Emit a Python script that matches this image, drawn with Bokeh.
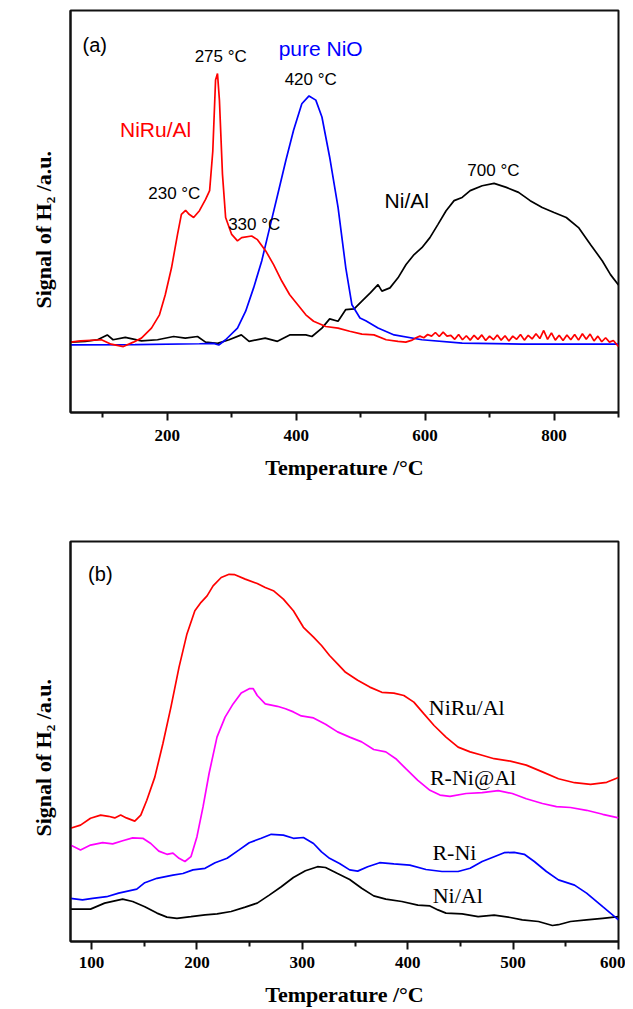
import math
from bokeh.plotting import figure
from bokeh.models import FixedTicker, Label, Range1d, Title
from bokeh.layouts import column
from bokeh.embed import file_html
from bokeh.resources import INLINE

# ---------------- Panel (a) data ----------------
a_nio_T = [50, 150, 250, 272, 280, 290.6, 309, 321.7, 334, 346.6, 359, 371.5, 384, 396, 408.8, 420,
           430.5, 440, 452, 465, 477, 486.5, 499, 508, 527, 552, 595, 657.5, 750.7, 900]
a_nio_v = [16.8, 16.9, 17.1, 17.2, 16.8, 18.1, 21.0, 25.2, 31.0, 37.7, 46.0, 54.3, 62.7, 70.2, 76.8, 78.75,
           77.7, 73.5, 63.5, 51.0, 36.0, 26.8, 23.5, 22.8, 21.0, 19.3, 18.1, 17.25, 17.0, 17.0]

a_niru_T = [50, 66, 98, 113, 132, 147.6, 160, 175.6, 188, 197, 206.7, 216, 222, 228.5, 234, 241, 250, 259.5,
            265.8, 270.7, 275, 278, 281, 285.7, 290.6, 300, 309, 315.5, 331, 340, 352.8, 365, 377.7, 390,
            402.5, 415, 427, 446, 465, 483, 502, 520.7, 539.6, 558, 570,
            580, 586, 592, 598, 604, 610, 616, 622, 628, 634, 640, 646, 652, 658, 664, 670, 676, 682, 688,
            694, 700, 706, 712, 718, 724, 730, 736, 742, 748, 754, 760, 766, 772, 778, 784, 790, 796, 802,
            808, 814, 820, 826, 832, 838, 844, 850, 856, 862, 868, 874, 880, 886, 892, 898, 900]
a_niru_v = [17.5, 17.8, 18.1, 17.0, 16.4, 17.5, 18.5, 21.0, 24.3, 29.3, 36.0, 44.3, 49.3, 50.3, 49.3, 48.5, 50.2, 53.0,
            55.2, 65.0, 82.7, 84.3, 77.7, 59.3, 48.5, 44.3, 42.7, 43.5, 43.9, 43.0, 40.2, 36.8, 32.7, 29.3,
            26.8, 24.3, 22.7, 21.4, 21.0, 20.2, 19.5, 19.3, 18.1, 17.7, 17.5,
            18.0, 18.6, 19.0, 18.6, 19.4, 19.0, 19.9, 18.9, 20.0, 19.0, 19.2, 18.2, 19.4, 18.1, 19.1, 18.0, 19.2, 18.2, 19.3,
            17.9, 19.0, 18.1, 19.3, 18.0, 19.1, 17.8, 19.0, 18.2, 19.4, 18.0, 19.2, 18.3, 19.6, 18.4, 20.4, 18.2, 19.8, 18.0,
            19.2, 17.9, 19.3, 18.1, 19.4, 18.0, 19.6, 18.2, 19.5, 17.8, 19.0, 17.6, 18.6, 17.5, 17.9, 16.8, 16.4]

a_nial_T = [50, 73, 92, 107, 116, 135, 160, 185, 210, 228, 247, 259.5, 278, 296, 315, 327, 352, 371, 390, 415,
            424.5, 440, 452, 465, 477, 490, 502, 515, 527, 533, 545.5, 558, 570.5, 583, 595, 607.5, 620,
            632.6, 645, 657.5, 670, 688.6, 707, 726, 745, 763, 781.7, 800, 819, 838, 856.5, 875, 887.6, 900]
a_nial_v = [17.5, 17.7, 18.1, 19.3, 18.1, 18.7, 17.8, 18.1, 18.9, 18.5, 18.9, 17.5, 17.2, 18.1, 19.3, 17.7, 18.5, 17.7,
            19.3, 19.3, 18.9, 21.0, 23.3, 22.7, 25.6, 25.8, 27.7, 29.75, 31.8, 30.2, 31.0, 33.5, 36.8, 39.3, 41.0,
            43.5, 46.8, 50.2, 52.7, 53.5, 55.2, 56.4, 57.0, 56.0, 54.75, 52.7, 51.0, 49.75, 48.5, 46.0, 41.8,
            37.7, 34.3, 31.7]

# ---------------- Panel (b) data ----------------
b_niru_T = [80, 89.5, 99, 108.6, 116, 122, 127.6, 133, 141, 146.7, 152.4, 160, 167.7, 175.3, 183, 190.5, 198,
            203.9, 209.6, 215.3, 223, 230.5, 236, 245.8, 257.2, 264.8, 272.5, 282, 291.5, 301, 310.6, 318.2,
            325.8, 333.4, 341, 352.5, 364, 375.4, 386.8, 396.3, 405.8, 415.4, 425, 436.3, 447.8, 459.2, 470.6,
            482, 497.3, 512.5, 527.8, 543, 558.3, 573.5, 588.8, 600]
b_niru_v = [28.3, 29.1, 30.8, 31.6, 31.3, 30.9, 31.6, 30.9, 30.1, 31.6, 35.3, 41.1, 49.5, 58.6, 68.6, 76.9, 82.7,
            84.8, 86.4, 88.9, 91.0, 91.8, 91.7, 90.6, 89.5, 88.5, 87.7, 85.6, 82.7, 78.55, 76.1, 74.0,
            71.5, 69.4, 67.3, 65.3, 63.6, 62.3, 62.1, 61.5, 59.85, 56.9, 54.0, 51.1, 48.6, 47.4, 46.55,
            45.7, 45.1, 44.1, 42.4, 40.7, 39.7, 39.3, 39.8, 41.0]

b_rnial_T = [80, 89.5, 99, 110.5, 120, 129.5, 139, 148.6, 156.2, 163.8, 171.5, 177.2, 183, 188.6, 194.3, 200,
             205.8, 211.5, 219, 226.7, 234.3, 242, 249.6, 253.4, 257.2, 264.8, 276.3, 284, 291.5, 299, 310.6,
             322, 333.4, 344.9, 356.3, 367.7, 379.2, 388.7, 398.2, 409.6, 421.1, 430.6, 440.1, 455.4, 470.6,
             485.9, 499.2, 512.5, 527.8, 541.1, 554.4, 569.7, 585, 600]
b_rnial_v = [24.1, 22.9, 24.1, 24.7, 24.4, 25.2, 25.9, 25.8, 24.5, 22.6, 21.8, 22.1, 20.8, 20.0, 21.2, 26.2,
             33.7, 42.0, 51.1, 56.1, 59.4, 62.1, 63.2, 63.2, 61.5, 59.4, 58.8, 58.2, 57.4, 56.4, 55.9,
             54.3, 52.4, 51.1, 49.9, 48.0, 47.4, 45.7, 43.2, 40.3, 37.8, 36.6, 36.3, 37.0, 37.2,
             37.7, 37.0, 35.7, 34.5, 33.7, 33.5, 32.8, 31.8, 30.9]

b_rni_T = [80, 91.4, 101, 114.3, 125.7, 142.9, 150.5, 162, 177.2, 186.7, 196.2, 207.7, 217.2, 228.6, 240,
           249.6, 261, 270.5, 282, 291.5, 301, 310.6, 318.2, 325.8, 335.3, 344.9, 352.5, 362, 373.4, 386.8,
           402, 417.3, 432.5, 447.8, 459.2, 470.6, 482, 491.5, 501, 510.6, 520.1, 531.6, 543, 558.3, 569.7,
           585, 600]
b_rni_v = [10.8, 10.4, 10.8, 11.2, 12.1, 13.1, 14.7, 15.8, 16.6, 17.0, 17.9, 18.3, 19.7, 20.8, 22.9,
           24.7, 25.8, 26.8, 26.6, 25.8, 26.0, 24.5, 22.4, 20.8, 19.5, 17.9, 17.6, 18.7, 19.7, 19.4,
           19.1, 18.0, 17.5, 17.5, 18.3, 20.0, 21.2, 22.2, 22.3, 21.8, 20.0, 17.5, 15.4, 14.1, 12.1,
           8.7, 5.4]

b_nial_T = [80, 99, 112.4, 129.5, 139, 150.5, 162, 171.5, 181, 194.3, 207.7, 219.1, 232.4, 245.8, 257.2,
            268.6, 280, 291.5, 302.9, 314.4, 322, 333.4, 344.9, 356.3, 367.7, 379.2, 394.4, 409.6, 421.1,
            428.7, 436.3, 451.6, 466.8, 482, 497.3, 508.7, 524, 537.3, 543, 554.4, 569.7, 585, 600]
b_nial_v = [8.1, 8.1, 9.6, 10.6, 10.0, 8.7, 7.1, 6.1, 5.8, 6.2, 6.65, 6.9, 7.5, 8.6, 9.6,
            11.6, 13.7, 16.0, 17.7, 18.7, 18.5, 17.0, 15.5, 13.3, 11.4, 10.6, 10.0, 9.1, 8.9,
            7.9, 7.1, 6.9, 6.2, 6.6, 6.0, 5.4, 5.0, 4.0, 4.2, 5.0, 5.4, 5.8, 6.2]

a_major = [200, 400, 600, 800]
a_minor = [100, 300, 500, 700, 900]
b_major = [100, 200, 300, 400, 500, 600]
b_minor = [150, 250, 350, 450, 550]

SERIF = "Liberation Serif"
SANS = "Liberation Sans"
YLABEL = "Signal of H\u2082 /a.u."
XLABEL = "Temperature /\u00b0C"


def make_fig(width, height, xr, left, right, top, bottom, major, minor, tick_standoff, label_standoff,
             ylabel_offset, ylabel_standoff):
    p = figure(width=width, height=height, x_range=Range1d(*xr), y_range=Range1d(0, 100),
               output_backend="svg", toolbar_location=None,
               min_border_left=left, min_border_right=right, min_border_top=top, min_border_bottom=bottom)
    p.xgrid.visible = False
    p.ygrid.visible = False
    p.outline_line_color = "#111111"
    p.outline_line_width = 2
    p.background_fill_color = "white"
    p.border_fill_color = "white"
    xa = p.xaxis[0]
    xa.ticker = FixedTicker(ticks=major, minor_ticks=minor)
    xa.axis_line_width = 2
    xa.axis_line_color = "#111111"
    xa.major_tick_line_width = 2
    xa.minor_tick_line_width = 2
    xa.major_tick_line_color = "#111111"
    xa.minor_tick_line_color = "#111111"
    xa.major_tick_in = 0
    xa.major_tick_out = 8
    xa.minor_tick_in = 0
    xa.minor_tick_out = 5
    xa.major_label_text_font = SERIF
    xa.major_label_text_font_style = "bold"
    xa.major_label_text_font_size = "17px"
    xa.major_label_text_color = "black"
    xa.major_label_standoff = tick_standoff
    xa.axis_label = XLABEL
    xa.axis_label_text_font = SERIF
    xa.axis_label_text_font_style = "bold"
    xa.axis_label_text_font_size = "22px"
    xa.axis_label_text_color = "black"
    xa.axis_label_standoff = label_standoff
    ya = p.yaxis[0]
    ya.ticker = FixedTicker(ticks=[])
    ya.axis_line_width = 2
    ya.axis_line_color = "#111111"
    ya.major_tick_line_color = None
    ya.minor_tick_line_color = None
    ya.major_tick_out = 0
    ya.major_label_text_font_size = "0px"
    p.add_layout(Title(text=YLABEL, align="left", offset=ylabel_offset, standoff=ylabel_standoff,
                       vertical_align="bottom", text_font=SERIF, text_font_size="22px",
                       text_font_style="bold", text_color="black"), "left")
    return p


def add_text(p, x, y, txt, font, size, color="black"):
    p.add_layout(Label(x=x, y=y, text=txt, text_font=font, text_font_size=size, text_color=color,
                       text_align="center", text_baseline="middle"))


# ---- figure (a)
pa = make_fig(625, 500, (50, 900), 70, 3, 10, 88, a_major, a_minor, 9, 11, 104, 30)
pa.line(a_nial_T, a_nial_v, line_color="black", line_width=1.7)
pa.line(a_nio_T, a_nio_v, line_color="#0000ff", line_width=1.7)
pa.line(a_niru_T, a_niru_v, line_color="#ff0000", line_width=1.7)

add_text(pa, 87.7, 91.3, "(a)", SANS, "20px")
add_text(pa, 283, 88.5, "275 \u00b0C", SANS, "17px")
add_text(pa, 438, 90.6, "pure NiO", SANS, "21px", "#0000ff")
add_text(pa, 422.6, 82.8, "420 \u00b0C", SANS, "17px")
add_text(pa, 182, 70.3, "NiRu/Al", SANS, "21px", "#ff0000")
add_text(pa, 211, 54.5, "230 \u00b0C", SANS, "17px")
add_text(pa, 335, 46.8, "330 \u00b0C", SANS, "17px")
add_text(pa, 571.5, 52.7, "Ni/Al", SANS, "21px")
add_text(pa, 706, 60.2, "700 \u00b0C", SANS, "17px")

# ---- figure (b)
pb = make_fig(625, 509, (80, 600), 67, 7, 41, 67, b_major, b_minor, 7, 11, 105, 30)
pb.line(b_nial_T, b_nial_v, line_color="black", line_width=1.7)
pb.line(b_rni_T, b_rni_v, line_color="#0000ff", line_width=1.7)
pb.line(b_rnial_T, b_rnial_v, line_color="#ff00ff", line_width=1.7)
pb.line(b_niru_T, b_niru_v, line_color="#ff0000", line_width=1.7)

add_text(pb, 108.3, 91.9, "(b)", SANS, "20px")
add_text(pb, 456, 58.6, "NiRu/Al", SERIF, "22px")
add_text(pb, 462, 41.1, "R-Ni@Al", SERIF, "22px")
add_text(pb, 444.3, 22.2, "R-Ni", SERIF, "22px")
add_text(pb, 447.4, 11.6, "Ni/Al", SERIF, "22px")

layout = column(pa, pb)
open("out.html", "w").write(file_html(layout, INLINE))
